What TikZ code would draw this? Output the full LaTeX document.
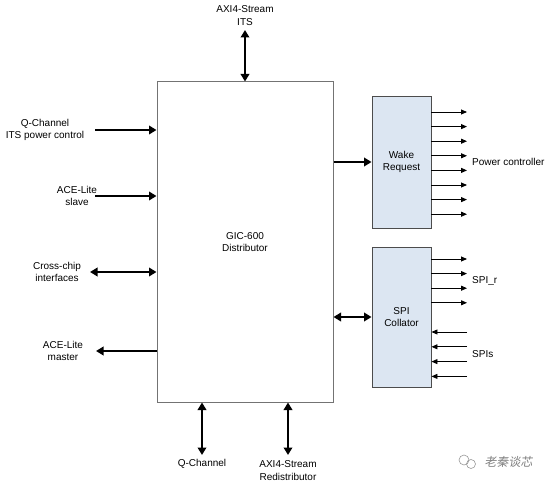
\documentclass[tikz,border=0pt]{standalone}
\usepackage{fontspec}
\setmainfont{Liberation Sans}
\newfontfamily\cjk{Noto Sans CJK SC}
\usetikzlibrary{arrows.meta}
\definecolor{subfill}{RGB}{220,230,242}
\begin{document}
\begin{tikzpicture}[x=1pt,y=-1pt,
  mainbox/.style={draw=black!55, line width=1pt, inner sep=0pt, font=\fontsize{10}{12.5}\selectfont, align=center},
  subbox/.style={draw=black!70, fill=subfill, line width=0.9pt, inner sep=0pt, font=\fontsize{10}{12.5}\selectfont, align=center},
  bigarr/.style={line width=2.6pt, -{Triangle[length=7.5pt,width=8.5pt]}},
  bigdbl/.style={line width=2.6pt, {Triangle[length=7.5pt,width=8.5pt]}-{Triangle[length=7.5pt,width=8.5pt]}},
  smallarr/.style={line width=0.9pt, -{Triangle[length=6pt,width=5pt]}},
  lbl/.style={font=\fontsize{10}{12.5}\selectfont, align=center, inner sep=0pt}]
\useasboundingbox (0,0) rectangle (554,492);
\fill[white] (0,0) rectangle (554,492);

% main block
\node[mainbox, minimum width=176pt, minimum height=320pt] (dist) at (245,242) {GIC-600\\Distributor};
\node[subbox, minimum width=59pt, minimum height=132pt] (wake) at (401.5,162) {Wake\\Request};
\node[subbox, minimum width=59pt, minimum height=140pt] (spi) at (401.5,317) {SPI\\Collator};

% top
\node[lbl] (axitop) at (245,15.5) {AXI4-Stream\\ITS};
\coordinate (topend) at (245,30);
\draw[bigdbl] (topend) -- (dist.north);

% left side
\node[lbl] (qlbl) at (45,130) {Q-Channel\\ITS power control};
\coordinate (qin) at (95,130);
\draw[bigarr] (qin) -- (qin -| dist.west);

\node[lbl] (slbl) at (77,196) {ACE-Lite\\slave};
\coordinate (sin) at (95,196);
\draw[bigarr] (sin) -- (sin -| dist.west);

\node[lbl] (clbl) at (57,272) {Cross-chip\\interfaces};
\coordinate (cin) at (90,272);
\draw[bigdbl] (cin) -- (cin -| dist.west);

\node[lbl] (mlbl) at (63,351) {ACE-Lite\\master};
\coordinate (mout) at (96,351);
\draw[bigarr] (mout -| dist.west) -- (mout);

% bottom
\coordinate (qb) at (202,455);
\draw[bigdbl] (qb |- dist.south) -- (qb);
\node[lbl] (qblbl) at (202,464) {Q-Channel};

\coordinate (rb) at (288,455);
\draw[bigdbl] (rb |- dist.south) -- (rb);
\node[lbl] (rblbl) at (288,470.5) {AXI4-Stream\\Redistributor};

% dist to sub blocks
\draw[bigarr] (dist.east |- wake.west) -- (wake.west);
\draw[bigdbl] (dist.east |- spi.west) -- (spi.west);

% wake outputs
\foreach \i in {0,...,7}{
  \coordinate (w\i) at (467,{112+14.6*\i});
  \draw[smallarr] (w\i -| wake.east) -- (w\i);
}
\node[lbl, anchor=west] (pclbl) at (472,162) {Power controller};

% SPI outputs / inputs
\foreach \i in {0,...,3}{
  \coordinate (so\i) at (467,{259+14.6*\i});
  \draw[smallarr] (so\i -| spi.east) -- (so\i);
  \coordinate (si\i) at (467,{332+14.8*\i});
  \draw[smallarr] (si\i) -- (si\i -| spi.east);
}
\node[lbl, anchor=west] (srlbl) at (472,281) {SPI\_r};
\node[lbl, anchor=west] (spislbl) at (472,354) {SPIs};

% watermark
\draw[black!40, line width=0.6pt] (464,460) circle (5);
\draw[black!40, line width=0.6pt] (471,464) circle (4.5);
\node[font=\cjk\fontsize{12}{13}\selectfont, text=black!50, inner sep=0pt, anchor=west, xslant=0.15] (wm) at (485,462) {老秦谈芯};
\end{tikzpicture}
\end{document}
